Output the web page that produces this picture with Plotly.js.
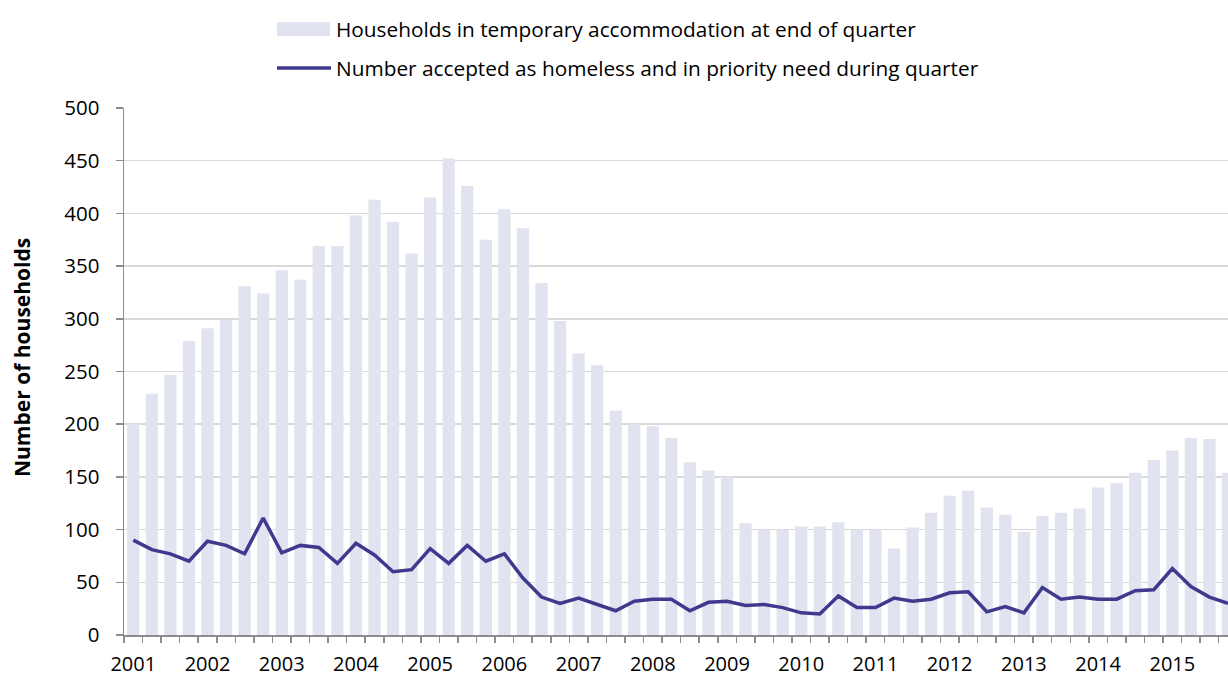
<!DOCTYPE html>
<html>
<head>
<meta charset="utf-8">
<script src="https://cdn.plot.ly/plotly-3.0.1.min.js"></script>
<style>html,body{margin:0;padding:0;background:#fff;}#chart{width:1228px;height:675px;}</style>
</head>
<body>
<div id="chart"></div>
<script>
// ---- Data ----
const years = ['2001','2002','2003','2004','2005','2006','2007','2008','2009','2010','2011','2012','2013','2014','2015'];
const quarters = ['Q1','Q2','Q3','Q4'];
const categories = years.flatMap(y => quarters.map(q => y + ' ' + q));

const tempAccommodation = [
  200,229,247,279, 291,299,331,324, 346,337,369,369, 398,413,392,362,
  415,452,426,375, 404,386,334,298, 267,256,213,200, 198,187,164,156,
  150,106,100,100, 103,103,107,100, 100,82,102,116, 132,137,121,114,
  98,113,116,120, 140,144,154,166, 175,187,186,154
];
const acceptedHomeless = [
  90,81,77,70, 89,85,77,111, 78,85,83,68, 87,76,60,62,
  82,68,85,70, 77,54,36,30, 35,29,23,32, 34,34,23,31,
  32,28,29,26, 21,20,37,26, 26,35,32,34, 40,41,22,27,
  21,45,34,36, 34,34,42,43, 63,46,36,30
];
const seriesNames = [
  'Households in temporary accommodation at end of quarter',
  'Number accepted as homeless and in priority need during quarter'
];
const yTitle = 'Number of households';

// ---- Layout geometry ----
const W = 1228, H = 675;
const M = {l: 124, r: 0, t: 108, b: 40};
const plotW = W - M.l - M.r, plotH = H - M.t - M.b;
const px = x => (x - M.l) / plotW;
const py = y => (H - M.b - y) / plotH;

const xIdx = categories.map((c, i) => i);
const yearTickVals = xIdx.filter(i => categories[i].endsWith('Q1'));
const yearTickText = yearTickVals.map(i => categories[i].split(' ')[0]);

const barColor = '#E1E3F0';
const lineColor = '#3F3A8E';
const axisColor = '#8C8C8C';
const font = 'Open Sans, DejaVu Sans, sans-serif';
const fs = 20.5;

const traces = [
  {
    type: 'bar', x: xIdx, y: tempAccommodation, name: seriesNames[0],
    hovertext: categories, hoverinfo: 'text+y',
    marker: {color: barColor, line: {width: 0}},
    showlegend: false
  },
  {
    type: 'scatter', mode: 'lines', x: xIdx, y: acceptedHomeless, name: seriesNames[1],
    hovertext: categories, hoverinfo: 'text+y',
    line: {color: lineColor, width: 3.5},
    showlegend: false
  }
];

const layout = {
  width: W, height: H,
  margin: M,
  paper_bgcolor: '#fff', plot_bgcolor: '#fff',
  font: {family: font, size: fs, color: '#000'},
  bargap: 0.34,
  xaxis: {
    type: 'linear', range: [-0.5, 59], fixedrange: true,
    tickmode: 'array', tickvals: yearTickVals, ticktext: yearTickText,
    ticks: '', showgrid: false, zeroline: false,
    showline: true, linecolor: axisColor, linewidth: 1.5,
    tickfont: {family: font, size: 20, color: '#000'},
    ticklabelstandoff: 10,
    minor: {tickmode: 'linear', tick0: -0.5, dtick: 1, ticks: 'outside', ticklen: 6, tickcolor: axisColor, tickwidth: 1.5, showgrid: false}
  },
  yaxis: {
    range: [0, 500], dtick: 50, fixedrange: true,
    ticks: 'outside', ticklen: 7, tickcolor: axisColor, tickwidth: 1.5,
    showline: true, linecolor: axisColor, linewidth: 1.5,
    showgrid: true, gridcolor: '#D9D9D9', gridwidth: 1.5, zeroline: false,
    tickfont: {family: font, size: fs, color: '#000'},
    ticklabelstandoff: 12
  },
  shapes: [
    {type: 'rect', xref: 'paper', yref: 'paper', x0: px(277), x1: px(330), y0: py(36), y1: py(22),
     fillcolor: barColor, line: {width: 0}},
    {type: 'line', xref: 'paper', yref: 'paper', x0: px(277), x1: px(331), y0: py(68), y1: py(68),
     line: {color: lineColor, width: 3.5}}
  ],
  annotations: [
    {xref: 'paper', yref: 'paper', x: px(334), y: py(29), xanchor: 'left', yanchor: 'middle',
     text: seriesNames[0], showarrow: false, font: {family: font, size: 20.8, color: '#000'}},
    {xref: 'paper', yref: 'paper', x: px(334), y: py(68), xanchor: 'left', yanchor: 'middle',
     text: seriesNames[1], showarrow: false, font: {family: font, size: 20.8, color: '#000'}},
    {xref: 'paper', yref: 'paper', x: px(22), y: py(358), xanchor: 'center', yanchor: 'middle',
     textangle: -90, text: '<b>' + yTitle + '</b>', showarrow: false,
     font: {family: font, size: 21, color: '#000'}}
  ]
};

Plotly.newPlot('chart', traces, layout, {displayModeBar: false, staticPlot: true});
</script>
</body>
</html>
